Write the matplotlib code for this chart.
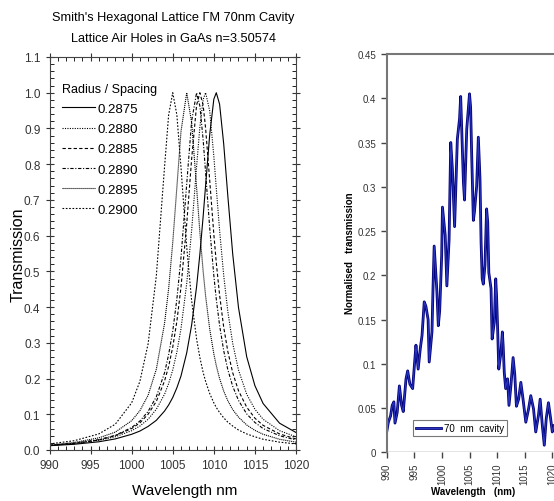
import matplotlib
matplotlib.use("Agg")
import matplotlib.pyplot as plt
import matplotlib.patheffects as pe
from matplotlib.ticker import MultipleLocator, FixedLocator, FormatStrFormatter, FuncFormatter

plt.rcParams['font.family'] = ['Liberation Sans', 'DejaVu Sans']

# ---------------- Left chart data ----------------
wl_grid = [990, 993, 996, 998, 1000, 1001, 1002, 1003, 1004, 1004.5, 1005, 1005.5,
           1006, 1006.7, 1007.3, 1007.9, 1008.3, 1008.7, 1009, 1009.5, 1010, 1010.3,
           1010.7, 1011.2, 1011.7, 1012.3, 1013, 1014, 1015, 1016, 1018, 1020]

r_2875 = [0.012, 0.016, 0.023, 0.031, 0.044, 0.053, 0.066, 0.083, 0.109, 0.126, 0.147, 0.174,
          0.207, 0.272, 0.350, 0.457, 0.548, 0.654, 0.741, 0.883, 0.982, 1.000,
          0.968, 0.857, 0.712, 0.548, 0.399, 0.261, 0.180, 0.130, 0.075, 0.049]
r_2880 = [0.013, 0.018, 0.027, 0.037, 0.054, 0.067, 0.086, 0.114, 0.156, 0.186, 0.224, 0.274,
          0.339, 0.466, 0.615, 0.793, 0.904, 0.981, 1.000, 0.949, 0.822, 0.732,
          0.615, 0.489, 0.388, 0.298, 0.224, 0.156, 0.114, 0.086, 0.054, 0.037]
r_2885 = [0.013, 0.018, 0.028, 0.040, 0.060, 0.076, 0.100, 0.136, 0.193, 0.234, 0.288, 0.360,
          0.455, 0.633, 0.815, 0.965, 1.000, 0.965, 0.900, 0.754, 0.604, 0.524,
          0.434, 0.344, 0.276, 0.216, 0.166, 0.120, 0.089, 0.069, 0.045, 0.031]
r_2890 = [0.013, 0.019, 0.029, 0.041, 0.063, 0.081, 0.108, 0.149, 0.216, 0.267, 0.333, 0.422,
          0.538, 0.745, 0.921, 1.000, 0.963, 0.868, 0.776, 0.621, 0.488, 0.422,
          0.349, 0.278, 0.225, 0.178, 0.139, 0.101, 0.077, 0.060, 0.040, 0.028]
r_2895 = [0.014, 0.021, 0.034, 0.050, 0.082, 0.110, 0.153, 0.226, 0.354, 0.452, 0.581, 0.735,
          0.891, 1.000, 0.917, 0.735, 0.610, 0.500, 0.431, 0.338, 0.269, 0.236,
          0.200, 0.165, 0.138, 0.113, 0.092, 0.070, 0.055, 0.044, 0.030, 0.022]
r_2900 = [0.017, 0.026, 0.045, 0.072, 0.132, 0.192, 0.297, 0.487, 0.792, 0.938, 1.000, 0.938,
          0.792, 0.568, 0.418, 0.311, 0.259, 0.217, 0.192, 0.158, 0.132, 0.119,
          0.105, 0.090, 0.078, 0.067, 0.056, 0.045, 0.037, 0.030, 0.022, 0.017]

series_labels = ['0.2875', '0.2880', '0.2885', '0.2890', '0.2895', '0.2900']
series_values = [r_2875, r_2880, r_2885, r_2890, r_2895, r_2900]
series_styles = ['-', (0, (1, 1.2)), (0, (3, 2)), (0, (3, 1.5, 1, 1.5)), (0, (1, 0.8)), (0, (1.5, 1.5))]

# ---------------- Right chart data ----------------
meas_wl = [990.0, 990.3, 990.7, 991.0, 991.3, 991.5, 991.9, 992.3, 992.7, 993.0,
           993.5, 993.8, 994.2, 994.7, 995.1, 995.3, 995.7, 996.1, 996.4, 996.8,
           997.1, 997.5, 997.7, 998.2, 998.4, 998.6, 999.1, 999.35, 999.6, 999.96,
           1000.1, 1000.6, 1000.9, 1001.3, 1001.6, 1001.9, 1002.3, 1002.8, 1003.2, 1003.4,
           1003.9, 1004.1, 1004.5, 1005.0, 1005.2, 1005.4, 1005.7, 1005.9, 1006.3, 1006.6,
           1006.9, 1007.1, 1007.3, 1007.5, 1007.8, 1008.1, 1008.3, 1008.5, 1008.9, 1009.1,
           1009.5, 1009.75, 1009.9, 1010.1, 1010.3, 1010.7, 1010.95, 1011.1, 1011.3, 1011.55,
           1011.9, 1012.15, 1012.5, 1012.9, 1013.2, 1013.5, 1013.9, 1014.3, 1014.7, 1015.2,
           1015.7, 1016.1, 1016.6, 1017.0, 1017.5, 1017.8, 1018.2, 1018.55, 1018.9, 1019.3,
           1019.7, 1020.0, 1020.3]
meas_tr = [0.023, 0.034, 0.041, 0.053, 0.057, 0.033, 0.045, 0.075, 0.053, 0.046,
           0.083, 0.092, 0.077, 0.072, 0.105, 0.121, 0.094, 0.118, 0.132, 0.170,
           0.165, 0.150, 0.102, 0.136, 0.188, 0.233, 0.181, 0.143, 0.160, 0.222,
           0.277, 0.245, 0.188, 0.240, 0.350, 0.320, 0.255, 0.354, 0.377, 0.402,
           0.305, 0.285, 0.365, 0.405, 0.390, 0.335, 0.262, 0.272, 0.301, 0.356,
           0.309, 0.237, 0.196, 0.190, 0.211, 0.275, 0.260, 0.203, 0.185, 0.128,
           0.147, 0.196, 0.177, 0.139, 0.094, 0.113, 0.136, 0.120, 0.090, 0.072,
           0.083, 0.053, 0.075, 0.107, 0.088, 0.052, 0.060, 0.079, 0.060, 0.034,
           0.049, 0.064, 0.049, 0.023, 0.042, 0.060, 0.030, 0.008, 0.038, 0.056,
           0.038, 0.023, 0.030]
meas_label = '70  nm  cavity'

W, H = 554, 502
fig = plt.figure(figsize=(W / 100, H / 100), dpi=100)

# ---------------- Left axes ----------------
ax1 = fig.add_axes([49.5 / W, 1 - 451 / H, (296 - 49.5) / W, (451 - 58) / H])
for vals, lab, ls in zip(series_values, series_labels, series_styles):
    ax1.plot(wl_grid, vals, color='black', lw=0.8, linestyle=ls, label=lab)
ax1.set_xlim(990, 1020)
ax1.set_ylim(0, 1.1)
ax1.xaxis.set_major_locator(MultipleLocator(5))
ax1.xaxis.set_minor_locator(MultipleLocator(1))
ax1.yaxis.set_major_locator(MultipleLocator(0.1))
ax1.yaxis.set_minor_locator(MultipleLocator(0.02))
ax1.yaxis.set_major_formatter(FormatStrFormatter('%.1f'))
ax1.xaxis.set_major_formatter(FormatStrFormatter('%d'))
ax1.tick_params(which='major', direction='inout', length=6, width=0.8,
                top=True, right=True, labelsize=8.5, colors='#333333', labelcolor='#333333')
ax1.tick_params(which='minor', direction='in', length=3, width=0.6, top=True, right=True)
for s in ax1.spines.values():
    s.set_linewidth(0.8)
    s.set_color('#444444')
ax1.set_xlabel('Wavelength nm', fontsize=11)
ax1.xaxis.set_label_coords((185 - 49.5) / (296 - 49.5), -0.083)
ax1.set_ylabel('Transmission', fontsize=11.5)
ax1.yaxis.set_label_coords(-(49.5 - 25.5) / (296 - 49.5), 0.5)
leg = ax1.legend(loc='upper left', bbox_to_anchor=((61.7 - 49.5) / (296 - 49.5), 0.934), frameon=False,
                 title='Radius / Spacing', fontsize=9.5, title_fontsize=9,
                 handlelength=2.5, handletextpad=0.2, labelspacing=0.6,
                 alignment='left', borderaxespad=0, borderpad=0)
fig.text(173.5 / W, 1 - 18 / H, "Smith's Hexagonal Lattice \u0393M 70nm Cavity",
         ha='center', va='center', fontsize=9.2)
fig.text(173.5 / W, 1 - 39 / H, "Lattice Air Holes in GaAs n=3.50574",
         ha='center', va='center', fontsize=9.2)

# ---------------- Right axes ----------------
ax2 = fig.add_axes([386.7 / W, 1 - 453.3 / H, (560 - 386.7) / W, (453.3 - 55) / H])
line, = ax2.plot(meas_wl, meas_tr, color='#2a36c0', lw=0.8, label=meas_label)
line.set_path_effects([pe.Stroke(linewidth=2.0, foreground='#000078'), pe.Normal()])
x_per_px = 30 / (552.3 - 386.7)
ax2.set_xlim(990, 990 + (560 - 386.7) * x_per_px)
ax2.set_ylim(0, 0.45)
ax2.xaxis.set_major_locator(FixedLocator([990, 995, 1000, 1005, 1010, 1015, 1020]))
ax2.yaxis.set_major_locator(MultipleLocator(0.05))
ax2.yaxis.set_major_formatter(FuncFormatter(lambda v, p: ('%.2f' % v).rstrip('0').rstrip('.') if v else '0'))
ax2.tick_params(axis='x', labelrotation=90)
ax2.tick_params(direction='out', length=4, width=1, colors='#444444', labelsize=7, labelcolor='#333333')
ax2.spines['right'].set_visible(False)
ax2.spines['bottom'].set_visible(False)
for k in ('left', 'top'):
    ax2.spines[k].set_linewidth(1.5)
    ax2.spines[k].set_color('#777777')
ax2.axhline(0, color='#777777', lw=1.0)
ax2.set_xlabel('Wavelength   (nm)', fontsize=7, fontweight='bold')
ax2.xaxis.set_label_coords((473 - 386.7) / (560 - 386.7), -0.085)
ax2.set_ylabel('Normalised   transmission', fontsize=7, fontweight='bold')
ax2.yaxis.set_label_coords(-(386.7 - 355.5) / (560 - 386.7), (453.3 - 253) / (453.3 - 55))
leg2 = ax2.legend(loc='lower left', bbox_to_anchor=((413 - 386.7) / (560 - 386.7), (453.3 - 437) / (453.3 - 55)),
                  frameon=True, fancybox=False, fontsize=7, handlelength=2.6, handletextpad=0.3,
                  borderpad=0.3, borderaxespad=0)
leg2.get_frame().set_edgecolor('#555555')
leg2.get_frame().set_linewidth(0.8)

fig.savefig('out.png', dpi=100)
